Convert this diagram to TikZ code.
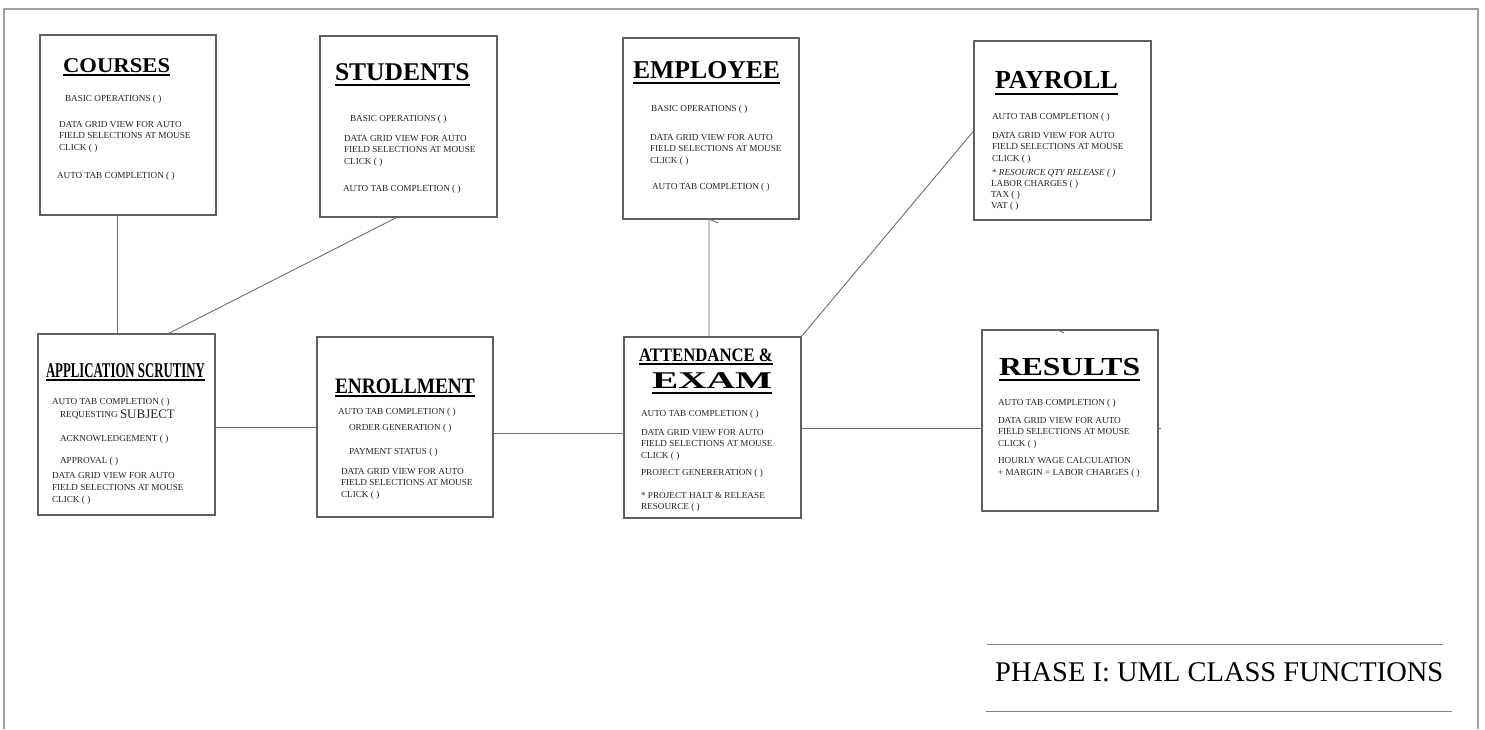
\documentclass[tikz,border=0pt]{standalone}
\usepackage{fontspec}
\setmainfont{Liberation Serif}
\usetikzlibrary{calc}
\definecolor{boxgray}{RGB}{95,95,95}
\definecolor{linegray}{RGB}{110,110,110}
\definecolor{framegray}{RGB}{160,160,160}
\definecolor{txtcol}{RGB}{35,35,35}
\tikzset{
  box/.style={draw=boxgray, line width=1.1pt, inner sep=0pt, outer sep=0pt, anchor=north west},
  txt/.style={anchor=base west, inner sep=0pt, outer sep=0pt, text=txtcol, font=\fontsize{9.2}{11}\selectfont},
  ttl/.style={anchor=base west, inner sep=0pt, outer sep=0pt, text=black},
  ul/.style={line width=2.2pt, black},
  conn/.style={draw=linegray, line width=0.9pt},
  frame/.style={draw=framegray, line width=1.4pt},
  rule/.style={draw=gray, line width=1pt}
}
\newcommand\tline[4]{\node[txt] (#1) at (#2,#3) {#4};}
\newcommand\ttlnode[6]{\node[ttl] (#1) at (#2,#3) {\scalebox{#5}[1]{\fontsize{#4}{#4}\selectfont\bfseries #6}};}
\begin{document}
\begin{tikzpicture}[x=1pt,y=-1pt]
\useasboundingbox (0,0) rectangle (1485,729);
\draw[frame] (4,729) -- (4,9) -- (1478,9) -- (1478,729);

% boxes
\node[box, minimum width=176pt, minimum height=180pt] (courses) at (40,35) {};
\node[box, minimum width=177pt, minimum height=181pt] (students) at (320,36) {};
\node[box, minimum width=176pt, minimum height=181pt] (employee) at (623,38) {};
\node[box, minimum width=177pt, minimum height=179pt] (payroll) at (974,41) {};
\node[box, minimum width=177pt, minimum height=181pt] (app) at (38,334) {};
\node[box, minimum width=176pt, minimum height=180pt] (enroll) at (317,337) {};
\node[box, minimum width=177pt, minimum height=181pt] (att) at (624,337) {};
\node[box, minimum width=176pt, minimum height=181pt] (results) at (982,330) {};

% titles
\ttlnode{tco}{63}{72}{21}{1.08}{COURSES}
\draw[ul] ([yshift=-3pt]tco.base west) -- ([yshift=-3pt]tco.base east);
\ttlnode{tst}{335}{80}{25.5}{1}{STUDENTS}
\draw[ul] ([yshift=-5pt]tst.base west) -- ([yshift=-5pt]tst.base east);
\ttlnode{tem}{633}{78}{25.7}{1}{EMPLOYEE}
\draw[ul] ([yshift=-5pt]tem.base west) -- ([yshift=-5pt]tem.base east);
\ttlnode{tpa}{995}{88}{26}{1}{PAYROLL}
\draw[ul] ([yshift=-6pt]tpa.base west) -- ([yshift=-6pt]tpa.base east);
\ttlnode{tap}{46}{377}{21}{0.61}{APPLICATION SCRUTINY}
\draw[ul] ([yshift=-3pt]tap.base west) -- ([yshift=-3pt]tap.base east);
\ttlnode{ten}{335}{393}{22}{0.88}{ENROLLMENT}
\draw[ul] ([yshift=-3pt]ten.base west) -- ([yshift=-3pt]ten.base east);
\ttlnode{tat}{639}{361}{19}{0.88}{ATTENDANCE \&}
\draw[ul] ([yshift=-3pt]tat.base west) -- ([yshift=-3pt]tat.base east);
\ttlnode{tex}{652}{388}{24}{1.64}{EXAM}
\draw[ul] ([yshift=-5pt]tex.base west) -- ([yshift=-5pt]tex.base east);
\ttlnode{tre}{999}{375}{26}{1.215}{RESULTS}
\draw[ul] ([yshift=-5pt]tre.base west) -- ([yshift=-5pt]tre.base east);

% COURSES
\tline{co1}{65}{101}{BASIC OPERATIONS ( )}
\tline{co2}{59}{127}{DATA GRID VIEW FOR AUTO}
\tline{co3}{59}{138.5}{FIELD SELECTIONS AT MOUSE}
\tline{co4}{59}{150}{CLICK ( )}
\tline{co5}{57}{178}{AUTO TAB COMPLETION ( )}
% STUDENTS
\tline{st1}{350}{121}{BASIC OPERATIONS ( )}
\tline{st2}{344}{141}{DATA GRID VIEW FOR AUTO}
\tline{st3}{344}{152.5}{FIELD SELECTIONS AT MOUSE}
\tline{st4}{344}{164}{CLICK ( )}
\tline{st5}{343}{191}{AUTO TAB COMPLETION ( )}
% EMPLOYEE
\tline{em1}{651}{111}{BASIC OPERATIONS ( )}
\tline{em2}{650}{140}{DATA GRID VIEW FOR AUTO}
\tline{em3}{650}{151.5}{FIELD SELECTIONS AT MOUSE}
\tline{em4}{650}{163}{CLICK ( )}
\tline{em5}{652}{189}{AUTO TAB COMPLETION ( )}
% PAYROLL
\tline{pa1}{992}{119}{AUTO TAB COMPLETION ( )}
\tline{pa2}{992}{138}{DATA GRID VIEW FOR AUTO}
\tline{pa3}{992}{149.5}{FIELD SELECTIONS AT MOUSE}
\tline{pa4}{992}{161}{CLICK ( )}
\tline{pa5}{992}{175}{* \itshape RESOURCE QTY RELEASE ( )}
\tline{pa6}{991}{186}{LABOR CHARGES ( )}
\tline{pa7}{991}{197}{TAX ( )}
\tline{pa8}{991}{208}{VAT ( )}
% APPLICATION SCRUTINY
\tline{ap1}{52}{404}{AUTO TAB COMPLETION ( )}
\tline{ap2}{60}{417}{REQUESTING}
\node[txt, font=\fontsize{13}{13}\selectfont] (ap2b) at (120,418) {SUBJECT};
\tline{ap3}{60}{441}{ACKNOWLEDGEMENT ( )}
\tline{ap4}{60}{463}{APPROVAL ( )}
\tline{ap5}{52}{478}{DATA GRID VIEW FOR AUTO}
\tline{ap6}{52}{490}{FIELD SELECTIONS AT MOUSE}
\tline{ap7}{52}{502}{CLICK ( )}
% ENROLLMENT
\tline{en1}{338}{414}{AUTO TAB COMPLETION ( )}
\tline{en2}{349}{430}{ORDER GENERATION ( )}
\tline{en3}{349}{454}{PAYMENT STATUS ( )}
\tline{en4}{341}{474}{DATA GRID VIEW FOR AUTO}
\tline{en5}{341}{485.5}{FIELD SELECTIONS AT MOUSE}
\tline{en6}{341}{497}{CLICK ( )}
% ATTENDANCE & EXAM
\tline{at1}{641}{416}{AUTO TAB COMPLETION ( )}
\tline{at2}{641}{435}{DATA GRID VIEW FOR AUTO}
\tline{at3}{641}{446.5}{FIELD SELECTIONS AT MOUSE}
\tline{at4}{641}{458}{CLICK ( )}
\tline{at5}{641}{475}{PROJECT GENERERATION ( )}
\tline{at6}{641}{498}{* PROJECT HALT \& RELEASE}
\tline{at7}{641}{509}{RESOURCE ( )}
% RESULTS
\tline{re1}{998}{405}{AUTO TAB COMPLETION ( )}
\tline{re2}{998}{423}{DATA GRID VIEW FOR AUTO}
\tline{re3}{998}{434.5}{FIELD SELECTIONS AT MOUSE}
\tline{re4}{998}{446}{CLICK ( )}
\tline{re5}{998}{463}{HOURLY WAGE CALCULATION}
\tline{re6}{998}{475}{+ MARGIN = LABOR CHARGES ( )}

% connectors
\draw[conn] ([xshift=-11pt]courses.south) -- ([xshift=-9.5pt]app.north);
\draw[conn] ([xshift=-11pt]students.south) -- ([xshift=41pt]app.north);
\draw[conn] ([yshift=-2.5pt]app.east) -- (enroll.west);
\draw[conn] ([yshift=-6pt]enroll.east) -- ([yshift=-5.5pt]att.west);
\draw[conn] ([xshift=-3.5pt]att.north) -- ([xshift=-2pt]employee.south) -- ++(9,4);
\draw[conn] (att.north east) -- (payroll.west);
\draw[conn] ([yshift=-0.5pt]att.east) -- ([yshift=-7.5pt]results.west);
\draw[conn] ([yshift=-7.5pt]results.east) -- ++(3,0);
\draw[conn] ([xshift=-12pt]results.north) -- ++(6,3);

% footer
\draw[rule] (987,644) -- (1443,644);
\draw[rule] (986,711) -- (1452,711);
\node[anchor=base west, inner sep=0pt, font=\fontsize{28.5}{28.5}\selectfont] (phase) at (995,681) {PHASE I: UML CLASS FUNCTIONS};
\end{tikzpicture}
\end{document}
